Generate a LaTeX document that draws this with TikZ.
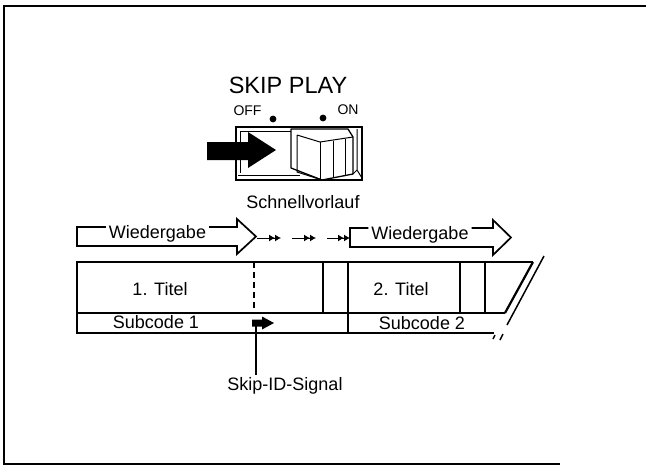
\documentclass[tikz,border=0pt]{standalone}
\usepackage{fontspec}
\setmainfont{Liberation Sans}
\usetikzlibrary{arrows.meta, positioning, calc}

\begin{document}
\begin{tikzpicture}[x=1pt, y=-1pt,
  lbl/.style={inner sep=0pt, anchor=base, font=\fontsize{18}{20}\selectfont},
  small/.style={inner sep=0pt, anchor=base, font=\fontsize{14}{15}\selectfont},
  outl/.style={line width=1.7pt, line join=miter},
  tape/.style={line width=2.2pt},
  ffwd/.style={line width=1pt, -{Latex[length=6pt,width=7pt]Latex[length=6pt,width=7pt]}}]

  \useasboundingbox (0,0) rectangle (646,466);
  % frame (open on the right)
  \draw[line width=2pt] (646,5.5) -- (3.5,5.5) -- (3.5,463.5) -- (560,463.5);

  % switch
  \node[inner sep=0pt, anchor=base, font=\fontsize{23.5}{25}\selectfont] (skip) at (288,93) {SKIP PLAY};
  \node[small] (off) at (247.5,115) {OFF};
  \node[small] (on) at (348,114) {ON};
  \fill (273,119) circle (3.4pt) (323,118) circle (3.4pt);
  \draw[line width=2.2pt] (236,127) rectangle (362,180);
  \draw[line width=0.8pt] (240,173) -- (240,131) -- (291,131);
  \draw[line width=0.8pt] (238,175) -- (300,175);
  % knob
  \draw[line width=1.3pt, fill=white, line join=round]
    (291,129) -- (348,129) -- (353,137) -- (353,174) -- (322,180) -- (291,168) -- cycle;
  \draw[line width=1pt] (297,135) -- (320,142) -- (353,137);
  \draw[line width=1pt] (297,135) -- (297,172) -- (322,180);
  \draw[line width=1pt] (320,142) -- (320,180) (333,141) -- (333,178) (345,139) -- (345,176);
  \draw[line width=1pt] (357,129) -- (357,170) -- (353,174) (357,170) -- (362,178);
  % black arrow
  \fill (207,142) -- (248,142) -- (248,132) -- (276,150) -- (248,168) -- (248,160) -- (207,160) -- cycle;
  \node[lbl] (fast) at (303,208) {Schnellvorlauf};

  % playback arrows
  \node[lbl] (wg1) at (157.5,238) {Wiedergabe};
  \node[lbl] (wg2) at (420,239) {Wiedergabe};
  \draw[outl] (wg1.west |- 0,227) ++(-3,0) -- (77,227) -- (77,246) -- (237,246) -- (237,254)
    -- (256,236.5) -- (237,219) -- (237,227) -- ([xshift=3pt]wg1.east |- 0,227);
  \draw[outl] (wg2.west |- 0,228) ++(-3,0) -- (350,228) -- (350,247) -- (493,247) -- (493,255)
    -- (511,237.5) -- (493,220) -- (493,228) -- ([xshift=3pt]wg2.east |- 0,228);
  \coordinate (a1) at (257,238);
  \coordinate (a2) at (292,238);
  \coordinate (a3) at (327,238);
  \draw[ffwd] (a1) -- ++(24,0);
  \draw[ffwd] (a2) -- ++(24,0);
  \draw[ffwd] (a3) -- (350,238);

  % tape
  \draw[tape] (533,262) -- (77,262) -- (77,333) -- (494,333);
  \draw[tape] (77,313) -- (505,313);
  \draw[tape] (533,262) -- (505,313);
  \draw[line width=1.5pt] (544,256) -- (507,325);
  \draw[line width=1.5pt] (495,335) -- (493,339) (503,334) -- (500,340);
  \draw[line width=1.3pt, dash pattern=on 6pt off 4pt] (254,262) -- (254,313);
  \draw[tape] (323,262) -- (323,313);
  \draw[tape] (348,262) -- (348,333);
  \draw[tape] (460,262) -- (460,313);
  \draw[tape] (485,262) -- (485,313);
  \node[lbl] (t1) at (160,295) {1. Titel};
  \node[lbl] (t2) at (401,295) {2. Titel};
  \node[lbl] (sc1) at (156,328.5) {Subcode 1};
  \node[lbl] (sc2) at (422,329) {Subcode 2};

  % skip id signal
  \fill (252,319.5) -- (262,319.5) -- (262,316.5) -- (274,323) -- (262,329.5) -- (262,326.5) -- (252,326.5) -- cycle;
  \coordinate (sid) at (256,325);
  \node[lbl] (sidlbl) at (285,390) {Skip-ID-Signal};
  \draw[line width=1.3pt, shorten >=2pt] (sid) -- (sid |- sidlbl.north);
\end{tikzpicture}
\end{document}
